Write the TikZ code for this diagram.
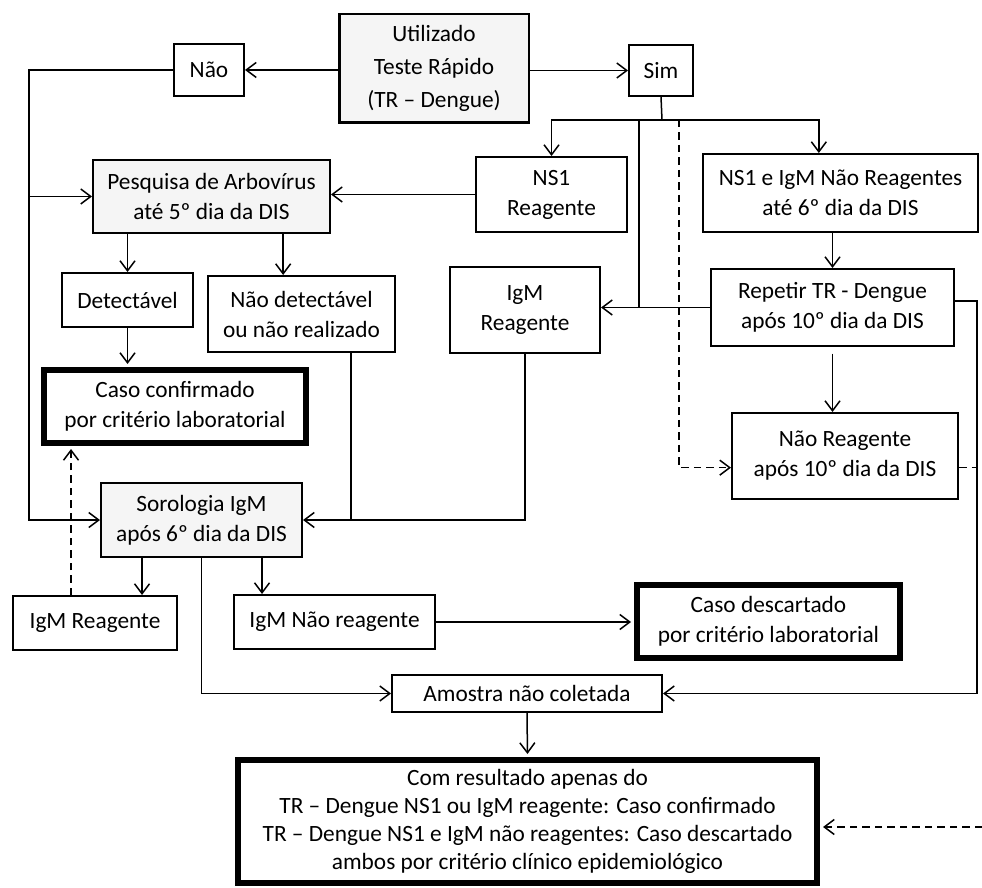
\documentclass[tikz,border=0pt]{standalone}
\usepackage{fontspec}
\setmainfont{Carlito}
\usetikzlibrary{arrows.meta}
\tikzset{
BOX/.style={draw=black, line width=1pt, inner sep=0pt, align=center, font=\fontsize{14}{18}\selectfont},
GRAYBOX/.style={BOX, fill=black!4},
THICKBOX/.style={BOX, line width=3.6pt},
LINE/.style={draw=black, line width=0.9pt},
ARROW/.style={LINE, -{Straight Barb[length=6pt,width=9pt]}},
DASHARROW/.style={ARROW, dash pattern=on 4.5pt off 3pt},
}

\begin{document}
\begin{tikzpicture}[x=0.6pt, y=-0.6pt]
	\useasboundingbox (0,0) rectangle (982,888);
	% boxes
	\node[GRAYBOX, line width=1.5pt, minimum width=113.7pt, minimum height=65.1pt,
	      font=\fontsize{14}{19.8}\selectfont] (util) at (434,68.5) {Utilizado\\Teste Rápido\\(TR – Dengue)};
	\node[BOX, minimum width=42.2pt, minimum height=31.4pt] (nao) at (209,70) {Não};
	\node[BOX, minimum width=38.6pt, minimum height=30.8pt] (sim) at (661,70.5) {Sim};
	\node[GRAYBOX, minimum width=142.4pt, minimum height=44pt] (pesq) at (211.5,196.5) {Pesquisa de Arbovírus\\até 5º dia da DIS};
	\node[BOX, minimum width=90.8pt, minimum height=45.2pt] (ns1) at (551.5,194.5) {NS1\\Reagente};
	\node[BOX, minimum width=165.2pt, minimum height=47pt] (ns1e) at (840.5,193) {NS1 e IgM Não Reagentes\\até 6º dia da DIS};
	\node[BOX, minimum width=78.8pt, minimum height=32.6pt] (detec) at (127.5,300) {Detectável};
	\node[BOX, minimum width=112.4pt, minimum height=45.8pt] (naodet) at (301.5,314) {Não detectável\\ou não realizado};
	\node[BOX, minimum width=90.2pt, minimum height=51.8pt] (igm) at (525,310) {IgM\\Reagente};
	\node[BOX, minimum width=146pt, minimum height=46.4pt] (repet) at (832.5,307.5) {Repetir TR - Dengue\\após 10º dia da DIS};
	\node[THICKBOX, minimum width=157.2pt, minimum height=43.8pt] (confirm) at (175,406.5) {Caso confirmado\\por critério laboratorial};
	\node[BOX, minimum width=135.8pt, minimum height=51.8pt] (nreag) at (845,456) {Não Reagente\\após 10º dia da DIS};
	\node[GRAYBOX, minimum width=120.8pt, minimum height=44.6pt] (sorol) at (201.5,520) {Sorologia IgM\\após 6º dia da DIS};
	\node[BOX, minimum width=98.6pt, minimum height=32.6pt] (igmr) at (95,623) {IgM Reagente};
	\node[BOX, minimum width=120.8pt, minimum height=32.6pt] (igmnr) at (334.5,622) {IgM Não reagente};
	\node[THICKBOX, minimum width=157.8pt, minimum height=43.8pt] (descart) at (768.5,621.5) {Caso descartado\\por critério laboratorial};
	\node[BOX, minimum width=162.2pt, minimum height=22.4pt] (amostra) at (527,693.5) {Amostra não coletada};
	\node[THICKBOX, minimum width=347.4pt, minimum height=73.8pt, font=\fontsize{14}{16.8}\selectfont] (final) at (527.5,821.5)
	     {Com resultado apenas do\\TR – Dengue NS1 ou IgM reagente: Caso confirmado\\TR – Dengue NS1 e IgM não reagentes: Caso descartado\\ambos por critério clínico epidemiológico};
	% helper points
	\coordinate (lft) at (29,70);
	\coordinate (split) at (662,120);
	\coordinate (vsol) at (639,120);
	\coordinate (vdash) at (679,120);
	\coordinate (rgt) at (977,301);
	\coordinate (edge) at (982,827);
	\coordinate (nse) at ([xshift=-13pt]ns1e.north);
	\coordinate (nd) at ([xshift=-11pt]naodet.north);
	\coordinate (nd2) at ([xshift=29.7pt]naodet.south);
	\coordinate (ir) at ([xshift=-14.4pt]igmr.north);
	\coordinate (s1) at ([xshift=-35.7pt]sorol.south);
	\coordinate (s2) at ([xshift=36.3pt]sorol.south);
	\coordinate (nrl) at ([yshift=-7pt]nreag.west);
	\coordinate (nrr) at ([yshift=-7pt]nreag.east);
	% connectors
	\draw[ARROW] (nao.east -| util.west) -- (nao.east);
	\draw[ARROW] (sim.west -| util.east) -- (sim.west);
	\draw[ARROW] (nao.west) -- (lft) -- (lft |- sorol.west) -- (sorol.west);
	\draw[ARROW] (lft |- pesq.west) -- (pesq.west);
	\draw[LINE] (sim.south) -- (split);
	\draw[ARROW] (split) -| (ns1.north);
	\draw[ARROW] (split) -| (nse);
	\draw[LINE] (vsol) -- (vsol |- repet.west);
	\draw[DASHARROW] (vdash) |- (nrl);
	\draw[ARROW] (ns1.west) -- (ns1.west -| pesq.east);
	\draw[ARROW] (pesq.south -| detec.north) -- (detec.north);
	\draw[ARROW] (nd |- pesq.south) -- (nd);
	\draw[ARROW, shorten >=1.8pt] (detec.south) -- (detec.south |- confirm.north);
	\draw[DASHARROW, shorten >=1.8pt] (ir) -- (ir |- confirm.south);
	\draw[LINE] (nd2) -- (nd2 |- sorol.east);
	\draw[ARROW] (igm.south) |- (sorol.east);
	\draw[ARROW] (repet.west) -- (repet.west -| igm.east);
	\draw[ARROW] (repet.north |- ns1e.south) -- (repet.north);
	\draw[ARROW, shorten <=4pt] (repet.south) -- (repet.south |- nreag.north);
	\draw[ARROW] (s1) -- (s1 |- igmr.north);
	\draw[ARROW] (s2) -- (s2 |- igmnr.north);
	\draw[ARROW] (sorol.south) |- (amostra.west);
	\draw[ARROW, shorten >=1.8pt] (igmnr.east) -- (igmnr.east -| descart.west);
	\draw[ARROW] (repet.east |- rgt) -- (rgt) |- (amostra.east);
	\draw[LINE, dash pattern=on 4.5pt off 3pt] (nrr) -- (nrr -| rgt);
	\draw[DASHARROW, shorten >=1.8pt] (edge) -- (edge -| final.east);
	\draw[ARROW, shorten >=1.8pt] (amostra.south) -- (final.north);
\end{tikzpicture}
\end{document}
